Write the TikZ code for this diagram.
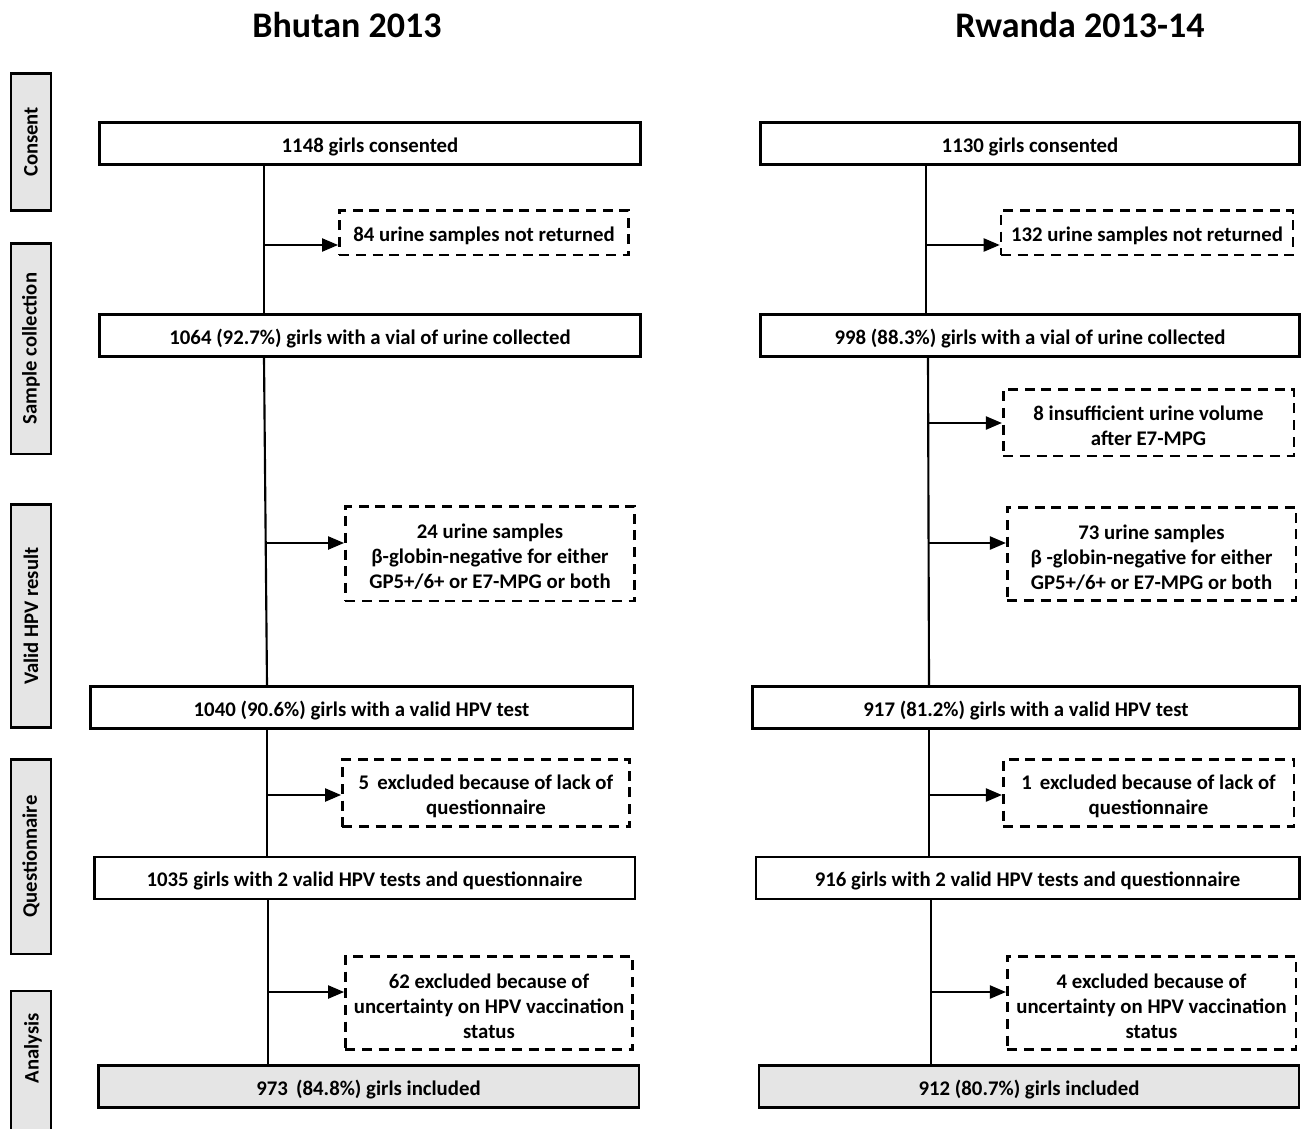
\documentclass[tikz,border=0pt]{standalone}
\usepackage{fontspec}
\setmainfont{Carlito}
\usetikzlibrary{arrows.meta}
\newcommand\mystrut{\rule{0pt}{16pt}}
\begin{document}
\begin{tikzpicture}[x=0.75pt,y=-0.75pt,
  txt/.style={font=\fontsize{15.6}{18.75}\selectfont\bfseries, align=center, inner sep=0pt},
  solidbox/.style={txt, draw, line width=2pt, minimum height=31.5pt},
  dbox/.style={txt, draw, line width=2pt, dash pattern=on 7.5pt off 5pt},
  incbox/.style={solidbox, fill=black!10},
  side/.style={draw, line width=2pt, fill=black!10, rotate=90, inner sep=0pt, minimum height=30pt, font=\fontsize{15.5}{18}\selectfont\bfseries},
  sidetxt/.style={rotate=90, inner sep=0pt, font=\fontsize{15.5}{18}\selectfont\bfseries},
  trunk/.style={line width=1.6pt},
  arr/.style={line width=1pt, -{Triangle[length=12pt,width=10pt]}},
  title/.style={font=\fontsize{27}{32}\selectfont\bfseries}]
\useasboundingbox (0,0) rectangle (1302,1128);

% titles
\node[title] (tB) at (347,25) {Bhutan 2013};
\node[title] (tR) at (1080,25) {Rwanda 2013-14};

% side labels
\node[side, minimum width=103pt] (sConsent) at (31,142) {Consent};
\node[side, minimum width=158pt] (sSample) at (31,348.5) {Sample collection};
\node[side, minimum width=167.5pt] (sValid) at (31,616) {Valid HPV result};
\node[side, minimum width=146pt] (sQuest) at (31,856.5) {Questionnaire};
\draw[line width=2pt, fill=black!10] (11,991) rectangle (51,1140);
\node[sidetxt] (sAnalysis) at (33,1048) {Analysis};

% ---------------- Bhutan ----------------
\node[solidbox, minimum width=406pt] (cons1) at (370,143.5) {\mystrut 1148 girls consented};
\node[dbox, minimum width=217pt, minimum height=33.5pt] (d1a) at (484,232.5) {\mystrut 84 urine samples not returned};
\node[solidbox, minimum width=406pt] (coll1) at (370,335.5) {\mystrut 1064 (92.7\%) girls with a vial of urine collected};
\node[dbox, minimum width=217pt, minimum height=71pt] (d1b) at (490,553.5) {\mystrut 24 urine samples\\β-globin-negative  for either\\GP5+/6+ or E7-MPG or both};
\node[solidbox, minimum width=407pt] (valid1) at (361.5,707.5) {\mystrut 1040 (90.6\%) girls with a valid HPV test};
\node[dbox, minimum width=215.5pt, minimum height=50.5pt] (d1c) at (486,793) {\mystrut 5\, excluded because of lack of\\questionnaire};
\node[solidbox, minimum width=405.5pt] (q1) at (364.5,878) {\mystrut 1035 girls with 2 valid HPV tests and questionnaire};
\node[dbox, minimum width=215.5pt, minimum height=70pt] (d1d) at (489,1003) {\mystrut 62 excluded because of\\uncertainty on HPV vaccination\\status};
\node[incbox, minimum width=405.5pt] (inc1) at (368.5,1086.5) {\mystrut 973\, (84.8\%) girls included};

\coordinate (a1) at (264,245);
\coordinate (a2) at (267,543);
\coordinate (a3) at (267,795);
\coordinate (a4) at (268,992);
\draw[trunk] (cons1.south -| a1) -- (coll1.north -| a1);
\draw[trunk] (coll1.south -| a1) -- (valid1.north -| a2);
\draw[trunk] (valid1.south -| a3) -- (q1.north -| a3);
\draw[trunk] (q1.south -| a4) -- (inc1.north -| a4);
\draw[arr] (a1) -- (a1 -| d1a.west);
\draw[arr] (a2) -- (a2 -| d1b.west);
\draw[arr] (a3) -- (a3 -| d1c.west);
\draw[arr] (a4) -- (a4 -| d1d.west);

% ---------------- Rwanda ----------------
\node[solidbox, minimum width=404pt] (cons2) at (1030,143.5) {\mystrut 1130 girls consented};
\node[dbox, minimum width=219pt, minimum height=33.5pt] (d2a) at (1147,232.5) {\mystrut 132 urine samples not returned};
\node[solidbox, minimum width=404pt] (coll2) at (1030,335.5) {\mystrut 998 (88.3\%) girls with a vial of urine collected};
\node[dbox, minimum width=218pt, minimum height=50pt] (d2b) at (1148.5,422.5) {\mystrut 8 insufficient  urine volume\\after E7-MPG};
\node[dbox, minimum width=216.5pt, minimum height=70pt] (d2c) at (1151.5,554) {\mystrut 73 urine samples\\β -globin-negative  for either\\GP5+/6+ or E7-MPG or both};
\node[solidbox, minimum width=410pt] (valid2) at (1026,707.5) {\mystrut 917 (81.2\%) girls with a valid HPV test};
\node[dbox, minimum width=218pt, minimum height=50.5pt] (d2d) at (1148.5,793) {\mystrut 1\, excluded because of lack of\\questionnaire};
\node[solidbox, minimum width=407.5pt] (q2) at (1027.5,878) {\mystrut 916 girls with 2 valid HPV tests and questionnaire};
\node[dbox, minimum width=216.5pt, minimum height=70pt] (d2e) at (1151.5,1003) {\mystrut 4 excluded because of\\uncertainty on HPV vaccination\\status};
\node[incbox, minimum width=405pt] (inc2) at (1029,1086.5) {\mystrut 912 (80.7\%) girls included};

\coordinate (b1) at (926,245);
\coordinate (b2) at (928,423);
\coordinate (b3) at (929,543);
\coordinate (b4) at (929,795);
\coordinate (b5) at (931,992);
\draw[trunk] (cons2.south -| b1) -- (coll2.north -| b1);
\draw[trunk] (coll2.south -| b2) -- (valid2.north -| b3);
\draw[trunk] (valid2.south -| b4) -- (q2.north -| b4);
\draw[trunk] (q2.south -| b5) -- (inc2.north -| b5);
\draw[arr] (b1) -- (b1 -| d2a.west);
\draw[arr] (b2) -- (b2 -| d2b.west);
\draw[arr] (b3) -- (b3 -| d2c.west);
\draw[arr] (b4) -- (b4 -| d2d.west);
\draw[arr] (b5) -- (b5 -| d2e.west);
\end{tikzpicture}
\end{document}
